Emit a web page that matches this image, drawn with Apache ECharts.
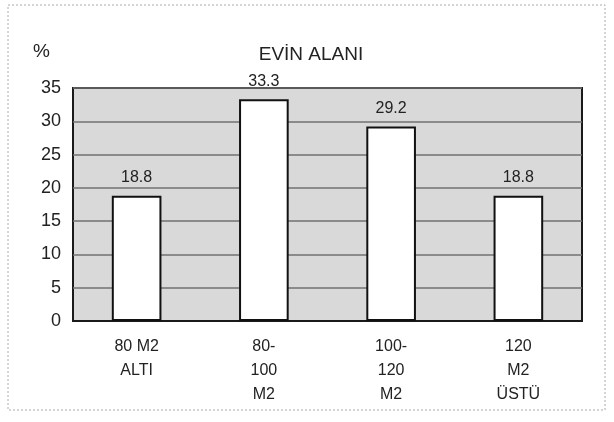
<!DOCTYPE html>
<html>
<head>
<meta charset="utf-8">
<script src="https://cdn.jsdelivr.net/npm/echarts@6/dist/echarts.min.js"></script>
<style>
  html, body { margin: 0; padding: 0; background: #fff; }
  #chart { width: 614px; height: 422px; }
</style>
</head>
<body>
<div id="chart"></div>
<script>
var categories = ["80 M2\nALTI", "80-\n100\nM2", "100-\n120\nM2", "120\nM2\nÜSTÜ"];
var values = [18.8, 33.3, 29.2, 18.8];
var yTicks = { min: 0, max: 35, interval: 5 };

var chart = echarts.init(document.getElementById("chart"));
var font = "Liberation Sans, Arial, sans-serif";

var option = {
  backgroundColor: "#fff",
  animation: false,
  title: {
    text: "EVİN ALANI",
    left: 306,
    top: 40,
    textAlign: "center",
    textStyle: { fontFamily: font, fontSize: 19, fontWeight: "normal", color: "#222" },
  },
  graphic: [
    {
      // dotted frame round the scan
      type: "rect",
      shape: { x: 8, y: 5, width: 597, height: 405 },
      style: { fill: "none", stroke: "#aaa", lineWidth: 1, lineDash: [2, 2] },
      silent: true,
    },
    {
      type: "text",
      left: 33,
      top: 42,
      style: { text: "%", fontFamily: font, fontSize: 19, fill: "#222" },
    },
  ],
  grid: {
    left: 73,
    right: 32,
    top: 88,
    bottom: 101,
    show: true,
    backgroundColor: "#d9d9d9",
    borderColor: "#1a1a1a",
    borderWidth: 2,
  },
  xAxis: {
    type: "category",
    data: categories,
    axisTick: { show: false },
    axisLine: { lineStyle: { color: "#1a1a1a", width: 2 } },
    axisLabel: {
      fontFamily: font,
      fontSize: 16,
      color: "#222",
      lineHeight: 24,
      margin: 14,
      interval: 0,
    },
  },
  yAxis: {
    type: "value",
    min: yTicks.min,
    max: yTicks.max,
    interval: yTicks.interval,
    axisLine: { show: false },
    axisTick: { show: false },
    axisLabel: { fontFamily: font, fontSize: 18, color: "#222", margin: 12 },
    splitLine: { lineStyle: { color: "#707070", width: 1.5 } },
  },
  series: [
    {
      type: "bar",
      data: values,
      barWidth: "39%",
      itemStyle: { color: "#fff", borderColor: "#111", borderWidth: 2 },
      label: {
        show: true,
        position: "top",
        distance: 10,
        fontFamily: font,
        fontSize: 16,
        color: "#222",
      },
    },
  ],
};

chart.setOption(option);
</script>
</body>
</html>
